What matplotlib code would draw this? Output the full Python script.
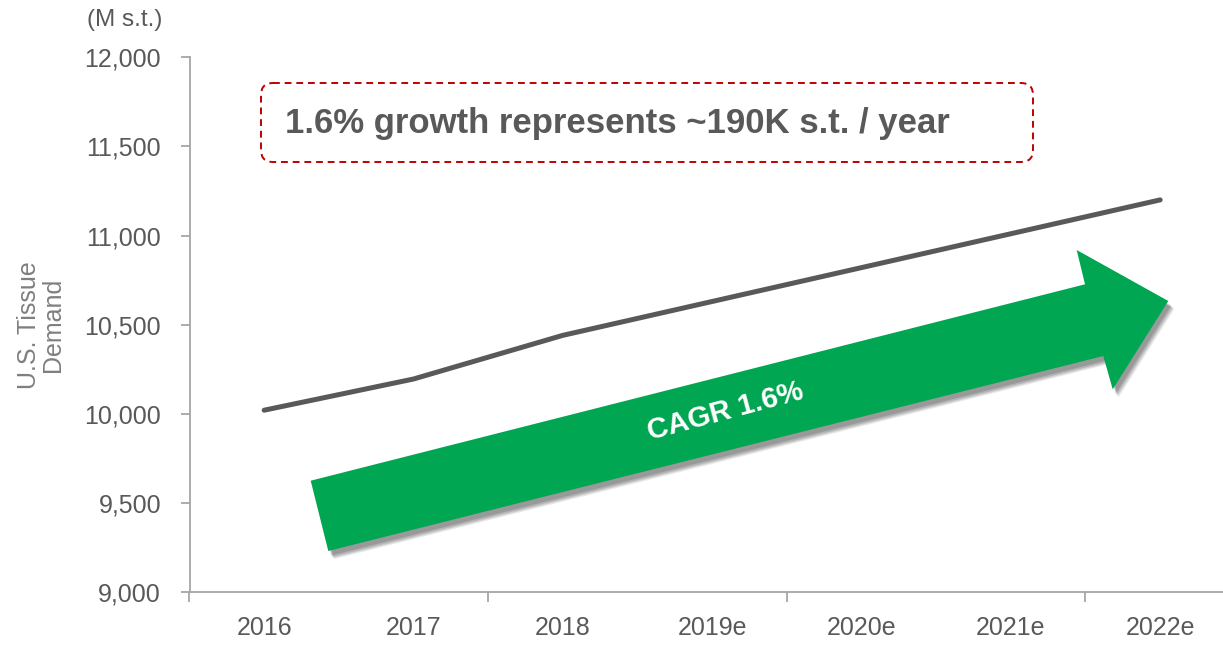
import matplotlib
matplotlib.use("Agg")
import matplotlib.pyplot as plt
from matplotlib.patches import Polygon, FancyBboxPatch
from matplotlib.transforms import Affine2D
from matplotlib.ticker import FixedLocator, NullFormatter

# ---- data ----
years = ["2016", "2017", "2018", "2019e", "2020e", "2021e", "2022e"]
demand = [10020, 10195, 10440, 10630, 10820, 11010, 11200]
y_ticks = [9000, 9500, 10000, 10500, 11000, 11500, 12000]
y_label = "U.S. Tissue\nDemand"
unit_label = "(M s.t.)"
callout = "1.6% growth represents ~190K s.t. / year"
arrow_label = "CAGR 1.6%"

plt.rcParams['font.family'] = ['Liberation Sans', 'DejaVu Sans']

W, H = 1223, 645
fig = plt.figure(figsize=(W / 100, H / 100), dpi=100)
# pixel (top-left origin) -> display transform
px = Affine2D().scale(1, -1).translate(0, H)

ax = fig.add_axes([189.5 / W, (H - 592) / H, (W - 189.5) / W, (592 - 57.3) / H])
x = list(range(len(years)))
ax.plot(x, demand, color="#595959", lw=3.6, solid_capstyle="round",
        solid_joinstyle="round", zorder=3)

ax.set_ylim(9000, 12000)
ax.set_xlim(-0.5, -0.5 + (W - 189.5) / 149.33)
ax.set_yticks(y_ticks)
ax.set_yticklabels([f"{v:,}" for v in y_ticks])

# major ticks at every other category boundary, labels at categories
ax.xaxis.set_major_locator(FixedLocator([-0.5, 1.5, 3.5, 5.5]))
ax.xaxis.set_major_formatter(NullFormatter())
ax.xaxis.set_minor_locator(FixedLocator(x))
ax.set_xticklabels(years, minor=True)

for s in ["top", "right"]:
    ax.spines[s].set_visible(False)
for s in ["left", "bottom"]:
    ax.spines[s].set_color("#A6A6A6")
    ax.spines[s].set_linewidth(1.3)

ax.tick_params(axis="y", which="major", direction="out", length=6.5, width=1.3,
               color="#A6A6A6", labelcolor="#595959", labelsize=18, pad=14)
ax.tick_params(axis="x", which="major", direction="out", length=7, width=1.3,
               color="#A6A6A6")
ax.tick_params(axis="x", which="minor", length=0, labelcolor="#595959",
               labelsize=18, pad=17)

# labels
fig.text(41 / W, 1 - 325 / H, y_label, rotation=90, ha="center", va="center",
         multialignment="center", fontsize=18, color="#7F7F7F", linespacing=0.95)
fig.text(125 / W, 1 - 20 / H, unit_label, ha="center", va="center",
         fontsize=17.5, color="#595959")

# callout box
box = FancyBboxPatch((261, 83), 1033 - 261, 162 - 83,
                     boxstyle="round,pad=0,rounding_size=12",
                     transform=px, fill=False, edgecolor="#C00000",
                     linestyle=(0, (3.5, 2.5)), linewidth=1.4)
fig.patches.append(box)
fig.text(285 / W, 1 - 123 / H, callout, ha="left", va="center",
         fontsize=25, fontweight="bold", color="#595959")

# green arrow (pixel coordinates of the shape)
arrow_pts = [(310.7, 480.7), (1085, 284.3), (1076.7, 250), (1168.3, 301),
             (1112.7, 389.3), (1103.3, 356), (328.3, 551)]
for i, (dx, dy, a) in enumerate([(6, 8, 0.10), (5, 7, 0.12), (4, 6, 0.15), (3, 4.5, 0.18)]):
    sh = Polygon([(p[0] + dx, p[1] + dy) for p in arrow_pts], closed=True,
                 transform=px, facecolor="#202020", edgecolor="none", alpha=a)
    fig.patches.append(sh)
arrow = Polygon(arrow_pts, closed=True, transform=px, facecolor="#00A651",
                edgecolor="none")
fig.patches.append(arrow)
fig.text(725 / W, 1 - 412 / H, arrow_label, ha="center", va="center",
         rotation=15, rotation_mode="anchor", fontsize=21, fontweight="bold",
         color="white")

fig.savefig("out.png", dpi=100)
